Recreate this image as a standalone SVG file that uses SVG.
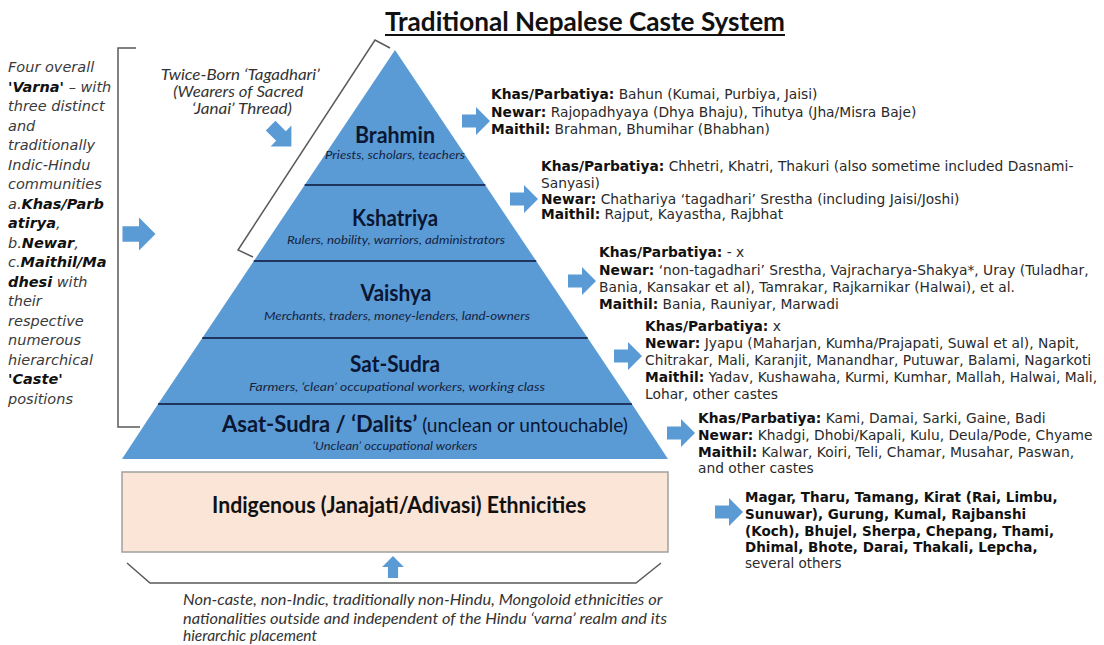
<svg xmlns="http://www.w3.org/2000/svg" width="1104" height="645" viewBox="0 0 1104 645">
<style>
.cal{font-family:Lato,"Liberation Sans",sans-serif}
.ver{font-family:"DejaVu Sans","Liberation Sans",sans-serif}
.lvl{fill:#5b9bd5}
.sep{stroke:#1f3560;stroke-width:2}
.name{font-family:Lato,"Liberation Sans",sans-serif;font-weight:bold;font-size:23px;fill:#0b1633;text-anchor:middle}
.sub{font-family:Lato,"Liberation Sans",sans-serif;font-style:italic;font-size:12px;fill:#15233f;text-anchor:middle}
.rt{font-family:"DejaVu Sans","Liberation Sans",sans-serif;font-size:13.8px;fill:#2a2a2a}
.rb{font-family:"DejaVu Sans","Liberation Sans",sans-serif;font-size:13.5px;fill:#2a2a2a}
.b{font-weight:bold;fill:#111}
.lt{font-family:"DejaVu Sans","Liberation Sans",sans-serif;font-style:italic;font-size:14.5px;fill:#3a3a3a}
.brk{fill:none;stroke:#5a5a5a;stroke-width:1.5}
.arr{fill:#5b9bd5}
</style>
<defs>
<path id="ar" d="M-14,-6.5 H0 V-14 L14,0 L0,14 V6.5 H-14 Z"/>
</defs>
<rect width="1104" height="645" fill="#ffffff"/>

<g id="title">
<text x="585" y="31" class="cal" font-weight="bold" font-size="27" fill="#111" text-anchor="middle" textLength="400" lengthAdjust="spacingAndGlyphs">Traditional Nepalese Caste System</text>
<line x1="385" y1="35" x2="785" y2="35" stroke="#111" stroke-width="2"/>
</g>

<g id="left-note">
<path class="brk" d="M136,48 H118 V427 H140"/>
<text class="lt">
<tspan x="8" y="72">Four overall</tspan>
<tspan x="8" y="91.5"><tspan font-weight="bold" fill="#111">'Varna'</tspan> – with</tspan>
<tspan x="8" y="111">three distinct</tspan>
<tspan x="8" y="130.5">and</tspan>
<tspan x="8" y="150">traditionally</tspan>
<tspan x="8" y="169.5">Indic-Hindu</tspan>
<tspan x="8" y="189">communities</tspan>
<tspan x="8" y="208.5">a.<tspan font-weight="bold" fill="#111">Khas/Parb</tspan></tspan>
<tspan x="8" y="228" font-weight="bold" fill="#111">atirya<tspan font-weight="normal" fill="#3a3a3a">,</tspan></tspan>
<tspan x="8" y="247.5">b.<tspan font-weight="bold" fill="#111">Newar</tspan>,</tspan>
<tspan x="8" y="267">c.<tspan font-weight="bold" fill="#111">Maithil/Ma</tspan></tspan>
<tspan x="8" y="286.5"><tspan font-weight="bold" fill="#111">dhesi</tspan> with</tspan>
<tspan x="8" y="306">their</tspan>
<tspan x="8" y="325.5">respective</tspan>
<tspan x="8" y="345">numerous</tspan>
<tspan x="8" y="364.5">hierarchical</tspan>
<tspan x="8" y="384" font-weight="bold" fill="#111">'Caste'</tspan>
<tspan x="8" y="403.5">positions</tspan>
</text>
</g>

<g id="twice-born">
<path class="brk" d="M390,48 L375,40 L238,250 L253,257"/>
<text class="cal" font-style="italic" font-size="15" fill="#333" text-anchor="middle">
<tspan x="242" y="80" textLength="159" lengthAdjust="spacingAndGlyphs">Twice-Born ‘Tagadhari’</tspan>
<tspan x="240" y="97" textLength="130" lengthAdjust="spacingAndGlyphs">(Wearers of Sacred</tspan>
<tspan x="242" y="114" textLength="100" lengthAdjust="spacingAndGlyphs">‘Janai’ Thread)</tspan>
</text>
</g>

<g id="pyramid">
<g id="brahmin">
<polygon class="lvl" points="395,50 485.3,185 304.7,185"/>
<text class="name" x="395" y="143" textLength="80" lengthAdjust="spacingAndGlyphs">Brahmin</text>
<text class="sub" x="395" y="159" textLength="140" lengthAdjust="spacingAndGlyphs">Priests, scholars, teachers</text>
</g>
<g id="kshatriya">
<polygon class="lvl" points="304.7,185 485.3,185 536.2,261 253.8,261"/>
<text class="name" x="395" y="226" textLength="86" lengthAdjust="spacingAndGlyphs">Kshatriya</text>
<text class="sub" x="396" y="244" textLength="218" lengthAdjust="spacingAndGlyphs">Rulers, nobility, warriors, administrators</text>
</g>
<g id="vaishya">
<polygon class="lvl" points="253.8,261 536.2,261 587.7,338 202.3,338"/>
<text class="name" x="396" y="301" textLength="71" lengthAdjust="spacingAndGlyphs">Vaishya</text>
<text class="sub" x="397" y="320" textLength="266" lengthAdjust="spacingAndGlyphs">Merchants, traders, money-lenders, land-owners</text>
</g>
<g id="sat-sudra">
<polygon class="lvl" points="202.3,338 587.7,338 631.9,404 158.1,404"/>
<text class="name" x="395" y="372" textLength="90" lengthAdjust="spacingAndGlyphs">Sat-Sudra</text>
<text class="sub" x="397" y="391" textLength="296" lengthAdjust="spacingAndGlyphs">Farmers, ‘clean’ occupational workers, working class</text>
</g>
<g id="asat-sudra">
<polygon class="lvl" points="158.1,404 631.9,404 668,459 122,459"/>
<text x="425" y="432" text-anchor="middle" class="cal" fill="#0b1633" textLength="406" lengthAdjust="spacingAndGlyphs"><tspan font-weight="bold" font-size="23">Asat-Sudra / ‘Dalits’</tspan><tspan font-size="20"> (unclean or untouchable)</tspan></text>
<text class="sub" x="395" y="450" textLength="165" lengthAdjust="spacingAndGlyphs">‘Unclean’ occupational workers</text>
</g>
<line class="sep" x1="304.7" y1="185" x2="485.3" y2="185"/>
<line class="sep" x1="253.8" y1="261" x2="536.2" y2="261"/>
<line class="sep" x1="202.3" y1="338" x2="587.7" y2="338"/>
<line class="sep" x1="158.1" y1="404" x2="631.9" y2="404"/>
</g>

<g id="indigenous">
<rect x="122" y="472" width="546" height="80" fill="#fbe5d6" stroke="#a0a0a0" stroke-width="1.5"/>
<text x="399" y="513" text-anchor="middle" class="cal" font-weight="bold" font-size="22" fill="#111" textLength="374" lengthAdjust="spacingAndGlyphs">Indigenous (Janajati/Adivasi) Ethnicities</text>
</g>

<g id="indigenous-note">
<path class="brk" d="M127,563 L150,583 H636 L661,563"/>
<text class="cal" font-style="italic" font-size="15.5" fill="#333">
<tspan x="183" y="605" textLength="479" lengthAdjust="spacingAndGlyphs">Non-caste, non-Indic, traditionally non-Hindu, Mongoloid ethnicities or</tspan>
<tspan x="183" y="623.5" textLength="484" lengthAdjust="spacingAndGlyphs">nationalities outside and independent of the Hindu ‘varna’ realm and its</tspan>
<tspan x="183" y="641" textLength="134" lengthAdjust="spacingAndGlyphs">hierarchic placement</tspan>
</text>
</g>

<g id="brahmin-castes">
<text class="rt">
<tspan x="491" y="99"><tspan class="b">Khas/Parbatiya:</tspan> Bahun (Kumai, Purbiya, Jaisi)</tspan>
<tspan x="491" y="116.5"><tspan class="b">Newar:</tspan> Rajopadhyaya (Dhya Bhaju), Tihutya (Jha/Misra Baje)</tspan>
<tspan x="491" y="134"><tspan class="b">Maithil:</tspan>  Brahman, Bhumihar (Bhabhan)</tspan>
</text>
</g>

<g id="kshatriya-castes">
<text class="rt">
<tspan x="541" y="171"><tspan class="b">Khas/Parbatiya:</tspan> Chhetri, Khatri, Thakuri (also sometime included Dasnami-</tspan>
<tspan x="541" y="188">Sanyasi)</tspan>
<tspan x="541" y="204"><tspan class="b">Newar:</tspan> Chathariya ‘tagadhari’ Srestha (including Jaisi/Joshi)</tspan>
<tspan x="541" y="219"><tspan class="b">Maithil:</tspan>  Rajput, Kayastha, Rajbhat</tspan>
</text>
</g>

<g id="vaishya-castes">
<text class="rt">
<tspan x="599" y="257"><tspan class="b">Khas/Parbatiya:</tspan>  - x</tspan>
<tspan x="599" y="274.5"><tspan class="b">Newar:</tspan> ‘non-tagadhari’ Srestha, Vajracharya-Shakya*,  Uray (Tuladhar,</tspan>
<tspan x="599" y="292">Bania, Kansakar et al), Tamrakar, Rajkarnikar (Halwai), et al.</tspan>
<tspan x="599" y="309"><tspan class="b">Maithil:</tspan>  Bania, Rauniyar, Marwadi</tspan>
</text>
</g>

<g id="sat-sudra-castes">
<text class="rt">
<tspan x="645" y="331"><tspan class="b">Khas/Parbatiya:</tspan>  x</tspan>
<tspan x="645" y="348"><tspan class="b">Newar:</tspan> Jyapu  (Maharjan, Kumha/Prajapati, Suwal et al), Napit,</tspan>
<tspan x="645" y="365">Chitrakar, Mali, Karanjit, Manandhar, Putuwar, Balami, Nagarkoti</tspan>
<tspan x="645" y="382"><tspan class="b">Maithil:</tspan>  Yadav, Kushawaha, Kurmi, Kumhar, Mallah, Halwai, Mali,</tspan>
<tspan x="645" y="399">Lohar, other castes</tspan>
</text>
</g>

<g id="dalit-castes">
<text class="rt">
<tspan x="698" y="423"><tspan class="b">Khas/Parbatiya:</tspan>  Kami, Damai, Sarki, Gaine, Badi</tspan>
<tspan x="698" y="440"><tspan class="b">Newar:</tspan> Khadgi, Dhobi/Kapali, Kulu, Deula/Pode, Chyame</tspan>
<tspan x="698" y="457"><tspan class="b">Maithil:</tspan>  Kalwar, Koiri, Teli, Chamar, Musahar, Paswan,</tspan>
<tspan x="698" y="473">and other castes</tspan>
</text>
</g>

<g id="indigenous-groups">
<text class="rb">
<tspan x="745" y="502" class="b">Magar, Tharu, Tamang, Kirat  (Rai, Limbu,</tspan>
<tspan x="745" y="519" class="b">Sunuwar), Gurung, Kumal, Rajbanshi</tspan>
<tspan x="745" y="536" class="b">(Koch), Bhujel, Sherpa, Chepang, Thami,</tspan>
<tspan x="745" y="552" class="b">Dhimal,  Bhote, Darai, Thakali, Lepcha,</tspan>
<tspan x="745" y="568">several others</tspan>
</text>
</g>

<g id="connectors">
<use href="#ar" class="arr" transform="translate(139,234) scale(1.18)"/>
<use href="#ar" class="arr" transform="translate(281,136) rotate(45) scale(1.05)"/>
<use href="#ar" class="arr" transform="translate(476,121)"/>
<use href="#ar" class="arr" transform="translate(524,199)"/>
<use href="#ar" class="arr" transform="translate(582,281)"/>
<use href="#ar" class="arr" transform="translate(628,356)"/>
<use href="#ar" class="arr" transform="translate(681,433)"/>
<use href="#ar" class="arr" transform="translate(729,512)"/>
<use href="#ar" class="arr" transform="translate(393,567) rotate(-90) scale(0.78)"/>
</g>
</svg>
